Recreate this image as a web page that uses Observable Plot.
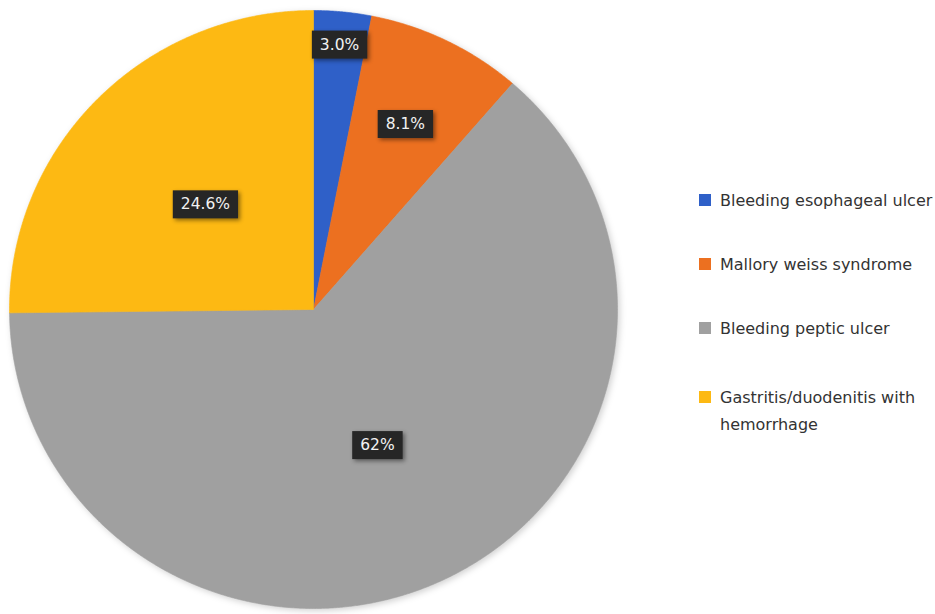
<!DOCTYPE html>
<html><head><meta charset="utf-8">
<script src="https://cdn.jsdelivr.net/npm/d3@7"></script>
<script src="https://cdn.jsdelivr.net/npm/@observablehq/plot@0.6"></script>
<style>
body{margin:0;background:#fff;font-family:"DejaVu Sans",Verdana,sans-serif;}
#wrap{position:relative;width:935px;height:614px;overflow:hidden;background:#fff;}
#wrap svg{position:absolute;left:0;top:0;}
.item{position:absolute;left:699px;font-size:16px;color:#333;line-height:27px;font-family:"DejaVu Sans",Verdana,sans-serif;}
.sw{position:absolute;left:0;width:12px;height:12px;}
.tx{position:absolute;left:21px;white-space:nowrap;}
</style>
</head><body><div id="wrap"></div>
<script>
const categories = ["Bleeding esophageal ulcer","Mallory weiss syndrome","Bleeding peptic ulcer","Gastritis/duodenitis with hemorrhage"];
const values = [3.0, 8.1, 62, 24.6];
const labels = ["3.0%","8.1%","62%","24.6%"];
const colors = ["#2F60C8","#EC7020","#A0A0A0","#FDB913"];
// layout: radial placement of each data label (fraction of radius)
const labelRadius = [0.89, 0.69, 0.5, 0.5];

const arcs = d3.pie().sort(null).value(d => d)(values);
const pts = [];
arcs.forEach((a, i) => {
  const name = categories[i];
  pts.push({name, x: 0, y: 0});
  const n = Math.max(4, Math.ceil((a.endAngle - a.startAngle) / 0.005));
  for (let k = 0; k <= n; k++) {
    const t = a.startAngle + (a.endAngle - a.startAngle) * k / n;
    pts.push({name, x: Math.sin(t), y: Math.cos(t)});
  }
  pts.push({name, x: 0, y: 0});
});
const labelRows = arcs.map((a, i) => {
  const m = (a.startAngle + a.endAngle) / 2;
  return {label: labels[i], x: labelRadius[i] * Math.sin(m), y: labelRadius[i] * Math.cos(m)};
});

const chart = Plot.plot({
  width: 935, height: 614,
  marginLeft: 9, marginRight: 318, marginTop: 10, marginBottom: 6,
  x: {domain: [-1, 1], axis: null},
  y: {domain: [-1, 1], axis: null},
  color: {domain: categories, range: colors},
  style: {background: "transparent", fontFamily: "'DejaVu Sans', Verdana, sans-serif"},
  marks: [
    Plot.line(pts, {x: "x", y: "y", z: "name", fill: "name", stroke: "name", strokeWidth: 0.6, curve: "linear"}),
    Plot.text(labelRows, {x: "x", y: "y", text: "label", fill: "#f2f2f2", fontSize: 15.5})
  ]
});
const wrap = document.getElementById("wrap");
wrap.appendChild(chart);

// pie shadow
const lineG = chart.querySelector('g[aria-label="line"]');
if (lineG) lineG.style.filter = "drop-shadow(2px 2px 3px rgba(0,0,0,0.18))";

// dark label boxes behind texts
const textG = chart.querySelector('g[aria-label="text"]');
if (textG) {
  const boxG = document.createElementNS("http://www.w3.org/2000/svg", "g");
  boxG.style.filter = "drop-shadow(2px 2px 2px rgba(0,0,0,0.45))";
  textG.parentNode.insertBefore(boxG, textG);
  textG.querySelectorAll("text").forEach(t => {
    const b = t.getBBox();
    const ctm = t.getCTM();
    const cx = b.x + b.width / 2, cy = b.y + b.height / 2;
    const r = document.createElementNS("http://www.w3.org/2000/svg", "rect");
    const w = b.width + 16, h = 28;
    const p = chart.createSVGPoint(); p.x = cx; p.y = cy;
    const q = p.matrixTransform(ctm);
    const g2 = boxG.getCTM();
    const pp = q.matrixTransform(g2.inverse());
    r.setAttribute("x", pp.x - w / 2);
    r.setAttribute("y", pp.y - h / 2);
    r.setAttribute("width", w);
    r.setAttribute("height", h);
    r.setAttribute("fill", "#262626");
    boxG.appendChild(r);
  });
}

// legend
const legendY = [200, 264, 328, 397];
categories.forEach((c, i) => {
  const it = document.createElement("div");
  it.className = "item";
  it.style.top = (legendY[i] - 13.5) + "px";
  const sw = document.createElement("div");
  sw.className = "sw"; sw.style.background = colors[i]; sw.style.top = "7px";
  const tx = document.createElement("div");
  tx.className = "tx";
  if (c === "Gastritis/duodenitis with hemorrhage") {
    tx.innerHTML = "Gastritis/duodenitis with<br>hemorrhage";
  } else tx.textContent = c;
  it.appendChild(sw); it.appendChild(tx);
  wrap.appendChild(it);
});
</script>
</body></html>
